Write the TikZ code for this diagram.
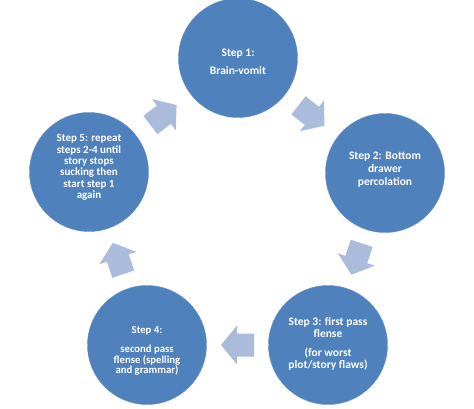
\documentclass[tikz,border=0pt]{standalone}
\usepackage{fontspec}
\setmainfont{Carlito}
\usetikzlibrary{calc}
\definecolor{stepblue}{RGB}{79,129,189}
\definecolor{arrowblue}{RGB}{170,187,219}
\tikzset{
  stepcircle/.style={circle, fill=stepblue, draw=stepblue!90!white, minimum size=119pt, inner sep=0pt},
  steptext/.style={text=white, align=center, inner sep=0pt},
}
\newcommand\cyclearrow[2]{%
  \pgfmathanglebetweenpoints{\pgfpointanchor{#1}{center}}{\pgfpointanchor{#2}{center}}%
  \let\arrang\pgfmathresult
  \fill[arrowblue, shift={($(#1)!0.5!(#2)$)}, rotate=\arrang]
    (-16.5pt,-11.5pt) -- (0.5pt,-11.5pt) -- (0.5pt,-19.5pt) -- (16.5pt,0pt)
    -- (0.5pt,19.5pt) -- (0.5pt,11.5pt) -- (-16.5pt,11.5pt) -- cycle;
}
\begin{document}
\begin{tikzpicture}[x=1pt,y=-1pt]
\fill[white] (0,0) rectangle (474,408);
\useasboundingbox (0,0) rectangle (474,408);
\node[stepcircle] (c1) at (238,58) {};
\node[stepcircle] (c2) at (385,173) {};
\node[stepcircle] (c3) at (328,345) {};
\node[stepcircle] (c4) at (147,345) {};
\node[stepcircle] (c5) at (89,172) {};
\node[steptext, font=\bfseries\fontsize{11.5}{13}\selectfont] (t1) at ($(c1)+(0,4)$) {Step 1:\\[5pt]Brain-vomit};
\node[steptext, font=\bfseries\fontsize{11.5}{13}\selectfont] (t2) at ($(c2)+(0,-3)$) {Step 2: Bottom\\drawer\\percolation};
\node[steptext, font=\bfseries\fontsize{11.5}{12.3}\selectfont] (t3) at ($(c3)+(0,-1)$) {Step 3: first pass\\flense\\[6pt](for worst\\plot/story flaws)};
\node[steptext, font=\bfseries\fontsize{10.7}{10.8}\selectfont] (t4) at ($(c4)+(0,6)$) {Step 4:\\[8pt]second pass\\flense (spelling\\and grammar)};
\node[steptext, font=\bfseries\fontsize{11}{11.3}\selectfont] (t5) at ($(c5)+(0,-4.5)$) {Step 5: repeat\\steps 2-4 until\\story stops\\sucking then\\start step 1\\again};
\cyclearrow{c1}{c2}
\cyclearrow{c2}{c3}
\cyclearrow{c3}{c4}
\cyclearrow{c4}{c5}
\cyclearrow{c5}{c1}
\end{tikzpicture}
\end{document}
